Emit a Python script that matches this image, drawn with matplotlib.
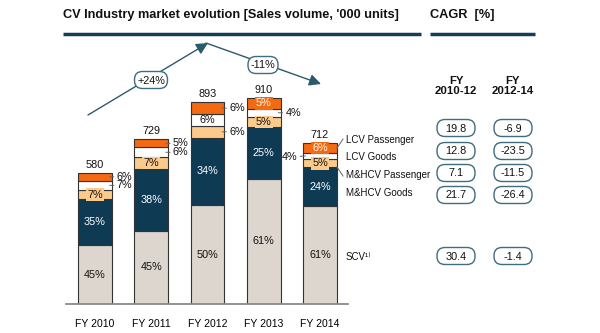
import matplotlib
matplotlib.use("Agg")
import matplotlib.pyplot as plt
from matplotlib.patches import FancyBboxPatch

plt.rcParams['font.family'] = ['Liberation Sans', 'DejaVu Sans']

# ---------------- data ----------------
years = ["FY 2010", "FY 2011", "FY 2012", "FY 2013", "FY 2014"]
totals = [580, 729, 893, 910, 712]
segments = ["SCV¹⁾", "M&HCV Goods", "M&HCV Passenger", "LCV Goods", "LCV Passenger"]
scv = [45, 45, 50, 61, 61]
mhcv_goods = [35, 38, 34, 25, 24]
mhcv_pass = [7, 7, 6, 5, 5]
lcv_goods = [7, 6, 6, 4, 4]
lcv_pass = [6, 5, 6, 5, 6]
cagr_headers = ["FY\n2010-12", "FY\n2012-14"]
cagr_10_12 = [19.8, 12.8, 7.1, 21.7, 30.4]
cagr_12_14 = [-6.9, -23.5, -11.5, -26.4, -1.4]
trend_labels = ["+24%", "-11%"]

# ---------------- styles ----------------
colors = ["#DDD6CF", "#0E3B53", "#FCCB8B", "#FFFFFF", "#F36A10"]
txtcolors = ["#111111", "white", "#111111", "#111111", "white"]
# label placement per bar (bottom -> top)
modes = [
    ["in", "in", "in", "right", "right"],
    ["in", "in", "in", "right", "right"],
    ["in", "in", "right", "in", "right"],
    ["in", "in", "in", "right", "in"],
    ["in", "in", "in", "left", "in"],
]
teal = "#2B5A6C"
fs = 7.8

fig = plt.figure(figsize=(6.0, 3.33), dpi=100)
W, H = 600, 333

# bar axes in pixel layout
ax_left, ax_right, base_y, top_y = 66, 348, 304, 40
ax = fig.add_axes([ax_left / W, (H - base_y) / H, (ax_right - ax_left) / W, (base_y - top_y) / H])
px_per_unit = 0.226
ax.set_ylim(0, (base_y - top_y) / px_per_unit)
ax.set_xlim(-0.516, 4.498)
for s in ["top", "right", "left"]:
    ax.spines[s].set_visible(False)
ax.spines["bottom"].set_color("#8A8A8A")
ax.spines["bottom"].set_linewidth(1.3)
ax.set_yticks([])
ax.set_xticks(range(len(years)))
ax.set_xticklabels(years, fontsize=7.5)
ax.tick_params(axis="x", length=0, pad=11)
ax.patch.set_visible(False)

series = [scv, mhcv_goods, mhcv_pass, lcv_goods, lcv_pass]
bw = 0.6
for i, tot in enumerate(totals):
    pcts = [s[i] for s in series]
    ssum = sum(pcts)
    bottom = 0
    for k, p in enumerate(pcts):
        h = tot * p / ssum
        ax.bar(i, h, bottom=bottom, width=bw, color=colors[k], edgecolor="#333333", linewidth=0.8, zorder=2)
        yc = bottom + h / 2
        mode = modes[i][k]
        lab = f"{p}%"
        if mode == "in":
            bbox = None
            if k == 2:
                bbox = dict(boxstyle="square,pad=0.12", fc=colors[2], ec="none")
            elif k == 4:
                bbox = dict(boxstyle="square,pad=0.12", fc=colors[4], ec="none")
            ax.text(i, yc, lab, ha="center", va="center", fontsize=fs, color=txtcolors[k], bbox=bbox, zorder=4)
        elif mode == "right":
            ax.annotate(lab, xy=(i + bw / 2 - 0.04, yc), xytext=(7, 0), textcoords="offset pixels",
                        ha="left", va="center", fontsize=fs, color="#111111", zorder=4,
                        arrowprops=dict(arrowstyle="-", color="#666666", lw=0.7, shrinkA=0, shrinkB=0))
        else:
            ax.annotate(lab, xy=(i - bw / 2 + 0.04, yc), xytext=(-8, -1), textcoords="offset pixels",
                        ha="right", va="center", fontsize=fs, color="#111111", zorder=4,
                        arrowprops=dict(arrowstyle="-", color="#666666", lw=0.7, shrinkA=0, shrinkB=0))
        bottom += h
    ax.annotate(str(tot), xy=(i, tot), xytext=(0, 3), textcoords="offset pixels",
                ha="center", va="bottom", fontsize=fs, color="#111111")

# overlay in pixel coordinates for decorations
ov = fig.add_axes([0, 0, 1, 1], zorder=5)
ov.set_xlim(0, W)
ov.set_ylim(H, 0)
ov.axis("off")
ov.patch.set_visible(False)

# titles and rules
ov.text(63, 15, "CV Industry market evolution [Sales volume, '000 units]", fontsize=9.2, fontweight="bold",
        ha="left", va="center", color="#111111")
ov.plot([63, 421], [34, 34], color="#123F55", lw=2.5, solid_capstyle="butt")
ov.text(430, 15, "CAGR  [%]", fontsize=9.2, fontweight="bold", ha="left", va="center", color="#111111")
ov.plot([430, 535], [34, 34], color="#123F55", lw=2.5, solid_capstyle="butt")

# trend arrows
ov.annotate("", xy=(208, 43), xytext=(88, 115),
            arrowprops=dict(arrowstyle="-|>,head_length=0.7,head_width=0.35", color=teal, lw=1.0, shrinkA=0, shrinkB=0))
ov.annotate("", xy=(321, 84), xytext=(206, 43),
            arrowprops=dict(arrowstyle="-|>,head_length=0.7,head_width=0.35", color=teal, lw=1.0, shrinkA=0, shrinkB=0))


def pill(x, y, w, h, text):
    p = FancyBboxPatch((x - w / 2, y - h / 2), w, h, boxstyle="round,pad=0,rounding_size=8",
                       fc="white", ec="#3F6C7E", lw=1.0, zorder=6)
    ov.add_patch(p)
    ov.text(x, y + 0.5, text, ha="center", va="center", fontsize=fs, color="#111111", zorder=7)


pill(151, 80, 33, 17, trend_labels[0])
pill(263, 65, 30, 17, trend_labels[1])

# segment legend
leg_x = 346
leg_y = [257, 193, 175, 157, 140]
for k in range(len(segments) - 1, -1, -1):
    ov.text(leg_x, leg_y[k], segments[k], ha="left", va="center", fontsize=7.0, color="#111111")
ov.plot([343, 337], [139, 148], color="#666666", lw=0.7)
ov.plot([343, 337], [176, 167], color="#666666", lw=0.7)

# CAGR table
col_x = [456, 513]
for cx, hdr in zip(col_x, cagr_headers):
    ov.text(cx, 86, hdr, ha="center", va="center", fontsize=8.2, fontweight="bold", color="#111111",
            linespacing=1.05)
row_y = [128, 151, 173, 195, 256]
for vals, cx in zip([cagr_10_12, cagr_12_14], col_x):
    for v, ry in zip(vals, row_y):
        pill(cx, ry, 38, 17, f"{v}")

fig.savefig("out.png", dpi=100)
